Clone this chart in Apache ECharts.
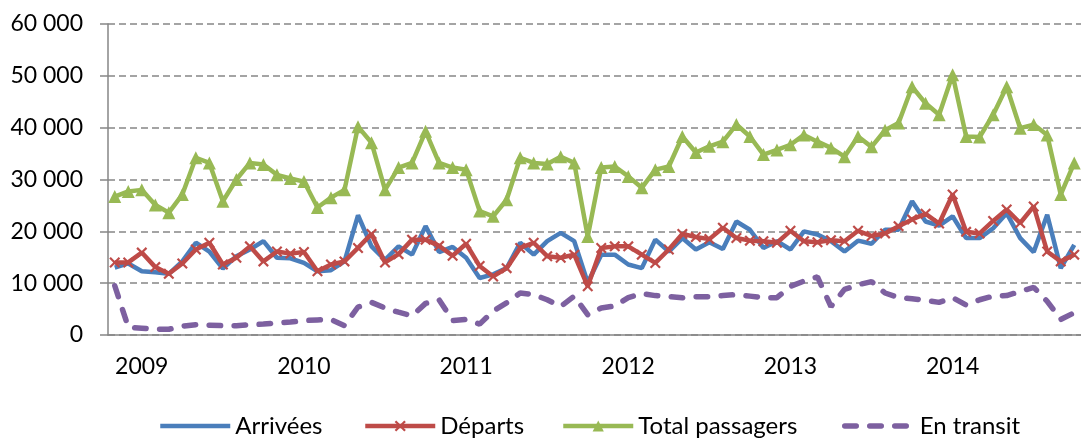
<!DOCTYPE html>
<html>
<head>
<meta charset="utf-8">
<script src="https://cdn.jsdelivr.net/npm/echarts@6/dist/echarts.min.js"></script>
<style>
  html, body { margin: 0; padding: 0; background: #fff; }
  #chart { width: 1081px; height: 439px; }
</style>
</head>
<body>
<div id="chart"></div>
<script>
// mois de nov. 2008 a oct. 2014, libelle d'annee sur janvier
let startYear = 2008, startMonth = 11;
let nbMois = 72;
let months = [];
for (let i = 0; i < nbMois; i++) {
  let m = startMonth - 1 + i;
  let y = startYear + Math.floor(m / 12);
  months.push(y + '-' + String(m % 12 + 1).padStart(2, '0'));
}
let yearLabels = ['2009', '2010', '2011', '2012', '2013', '2014'];

let arrivees = [
  13000, 13800, 12300, 12100, 11800, 14200, 17800, 16100, 12800, 15200, 16500, 18100,
  14900, 14800, 13900, 12300, 12500, 14200, 23100, 17100, 14500, 17100, 15500, 21000,
  16000, 17000, 14900, 11000, 11700, 12900, 17800, 15500, 18100, 19700, 18100, 10100,
  15500, 15500, 13600, 12900, 18400, 16100, 18700, 16500, 17900, 16600, 21900, 20300,
  16800, 18100, 16500, 20000, 19400, 18100, 16100, 18200, 17600, 20300, 20300, 25800,
  21900, 21100, 22900, 18700, 18700, 20600, 23500, 18700, 16000, 23200, 12900, 17400
];
let departs = [
  14000, 14000, 15900, 13100, 11800, 13800, 16500, 17800, 13600, 14900, 17100, 14200,
  16100, 15700, 16000, 12300, 13600, 14200, 16800, 19500, 14000, 15600, 18400, 18400,
  17200, 15300, 17600, 13300, 11300, 12900, 16800, 17800, 15200, 14900, 15500, 9400,
  16800, 17100, 17100, 15500, 13900, 16500, 19500, 18900, 18500, 20700, 18700, 18200,
  18100, 17800, 20100, 18100, 17900, 18300, 18100, 20100, 19100, 19600, 21000, 22300,
  23400, 21500, 27100, 19900, 19600, 22000, 24200, 21600, 24800, 16100, 14200, 15500
];
let totalPassagers = [
  26700, 27700, 28000, 25100, 23600, 27100, 34200, 33200, 25800, 30000, 33200, 32900,
  30900, 30200, 29600, 24600, 26500, 28000, 40200, 37100, 28000, 32300, 33200, 39300,
  33200, 32300, 31900, 23900, 22900, 26100, 34200, 33200, 33000, 34400, 33200, 19000,
  32300, 32500, 30600, 28400, 31900, 32500, 38300, 35200, 36400, 37300, 40600, 38300,
  34800, 35700, 36700, 38600, 37300, 36100, 34400, 38300, 36300, 39500, 40900, 47900,
  44700, 42500, 50200, 38300, 38200, 42500, 47900, 39900, 40600, 38600, 27100, 33200
];
let enTransit = [
  9500, 1500, 1300, 1100, 1100, 1700, 2000, 1900, 1800, 1800, 2000, 2100,
  2300, 2500, 2800, 2900, 3000, 1800, 5400, 6300, 5200, 4400, 3700, 6100,
  6800, 2800, 3000, 2100, 4600, 6200, 8100, 7800, 6800, 5500, 7500, 3900,
  5200, 5600, 7200, 8000, 7600, 7400, 7200, 7400, 7400, 7600, 7800, 7500,
  7200, 7200, 9400, 10400, 11200, 5500, 8800, 9700, 10300, 8100, 7200, 7000,
  6700, 6300, 7200, 5800, 6800, 7500, 7600, 8400, 9200, 6500, 3000, 4300
];

let couleurs = ['#4a7ebb', '#be4b48', '#98b954', '#7d60a0'];
let police = 'Lato, "Open Sans", sans-serif';
let croix = 'path://M0,1.4L1.4,0L5,3.6L8.6,0L10,1.4L6.4,5L10,8.6L8.6,10L5,6.4L1.4,10L0,8.6L3.6,5Z';
let tirets = [11.5, 13.5];

function legende(nom, gauche, sansSymbole, trait) {
  let l = {
    data: [nom],
    left: gauche,
    top: 409,
    itemWidth: 70,
    itemHeight: 14,
    itemGap: 0,
    lineStyle: trait,
    textStyle: { fontFamily: police, fontSize: 24, color: '#000' }
  };
  if (sansSymbole) l.itemStyle = { opacity: 0 };
  return l;
}

let chart = echarts.init(document.getElementById('chart'));
let option = {
  animation: false,
  color: couleurs,
  grid: { left: 108, top: 24, width: 981, height: 311, containLabel: false },
  legend: [
    legende('Arrivées', 153, true, { width: 4.5 }),
    legende('Départs', 358, false, { width: 4.5 }),
    legende('Total passagers', 556, false, { width: 4.5 }),
    legende('En transit', 837, true, { width: 5.5, type: tirets, cap: 'round' })
  ],
  xAxis: {
    type: 'category',
    data: months,
    boundaryGap: true,
    axisLine: { lineStyle: { color: '#868686', width: 1.5 } },
    axisTick: { show: false },
    axisLabel: {
      interval: function (index) { return (index - 2) % 12 === 0; },
      formatter: function (val, index) { return yearLabels[(index - 2) / 12] || ''; },
      fontFamily: police,
      fontSize: 23,
      color: '#000',
      margin: 20
    },
    splitLine: { show: false }
  },
  yAxis: {
    type: 'value',
    min: 0,
    max: 60000,
    interval: 10000,
    axisLine: { show: true, lineStyle: { color: '#868686', width: 1.5 } },
    axisTick: { show: true, length: 8, lineStyle: { color: '#868686', width: 1.5 } },
    axisLabel: {
      fontFamily: police,
      fontSize: 23,
      color: '#000',
      margin: 25,
      formatter: function (v) { return v === 0 ? '0' : (v / 1000) + ' 000'; }
    },
    splitLine: { lineStyle: { color: '#868686', width: 1.5, type: [7, 4] } }
  },
  series: [
    {
      name: 'Arrivées',
      type: 'line',
      data: arrivees,
      symbol: 'none',
      lineStyle: { width: 4.5, color: couleurs[0] },
      itemStyle: { color: couleurs[0] }
    },
    {
      name: 'Départs',
      type: 'line',
      data: departs,
      symbol: croix,
      symbolSize: 11,
      showAllSymbol: true,
      lineStyle: { width: 4.5, color: couleurs[1] },
      itemStyle: { color: couleurs[1] }
    },
    {
      name: 'Total passagers',
      type: 'line',
      data: totalPassagers,
      symbol: 'triangle',
      symbolSize: 13,
      showAllSymbol: true,
      lineStyle: { width: 4.5, color: couleurs[2] },
      itemStyle: { color: couleurs[2] }
    },
    {
      name: 'En transit',
      type: 'line',
      data: enTransit,
      symbol: 'none',
      lineStyle: { width: 5.5, color: couleurs[3], type: tirets, cap: 'round' },
      itemStyle: { color: couleurs[3] }
    }
  ]
};
chart.setOption(option);
</script>
</body>
</html>
